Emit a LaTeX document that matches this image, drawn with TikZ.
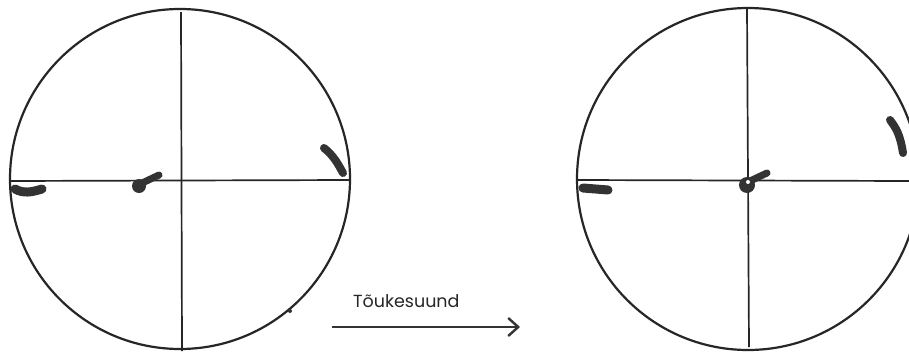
\documentclass[tikz,border=0pt]{standalone}
\usepackage{fontspec}
\setmainfont{Poppins}
\usetikzlibrary{arrows.meta}
\tikzset{
  rim/.style={line width=2.2pt, black!85},
  axis/.style={line width=1.7pt, black!85},
  blob/.style={line width=9pt, line cap=round, line join=round, black!80},
  pushtext/.style={font=\fontsize{17.5}{20}\selectfont, text=black!85, inner sep=0pt, anchor=base west},
  pusharrow/.style={line width=2pt, black!80, -{Straight Barb[length=10pt, width=18pt, line width=2.4pt]}}
}
\begin{document}
\begin{tikzpicture}[x=1pt,y=-1pt]
\useasboundingbox (0,0) rectangle (909,351);
\clip (0,0) rectangle (909,351);
\fill[white] (0,0) rectangle (909,351);
% left circle
\draw[rim] (180,179) circle (170);
\draw[axis] (181,12) -- (182,351);
\draw[axis] (10,181) -- (350,180);
\draw[blob] (15,189) .. controls (24,194) and (32,192) .. (42,189);
\draw[blob, line width=7pt] (138,185) -- (159,175);
\fill[black!80] (139,186) circle (7);
\draw[blob, line width=8pt] (324,148) .. controls (334,156) and (338,164) .. (343,173);
\fill[black!80] (290,311) circle (2);
% right circle
\draw[rim] (748,179) circle (171);
\draw[axis] (747,9) -- (749,347);
\draw[axis] (577,180) -- (909,181);
\draw[blob] (583,188) -- (608,190);
\draw[blob, line width=7pt] (750,181) -- (767,173);
\fill[black!80] (747,185) circle (8);
\fill[white] (748,182) circle (2);
\draw[blob, line width=8pt] (890,120) .. controls (896,128) and (900,134) .. (903,153);
% label and arrow
\node[pushtext] (lbl) at (353,307) {Tõukesuund};
\coordinate (a0) at (332,327);
\coordinate (a1) at (520,327);
\draw[pusharrow] (a0) -- (a1);
\end{tikzpicture}
\end{document}
